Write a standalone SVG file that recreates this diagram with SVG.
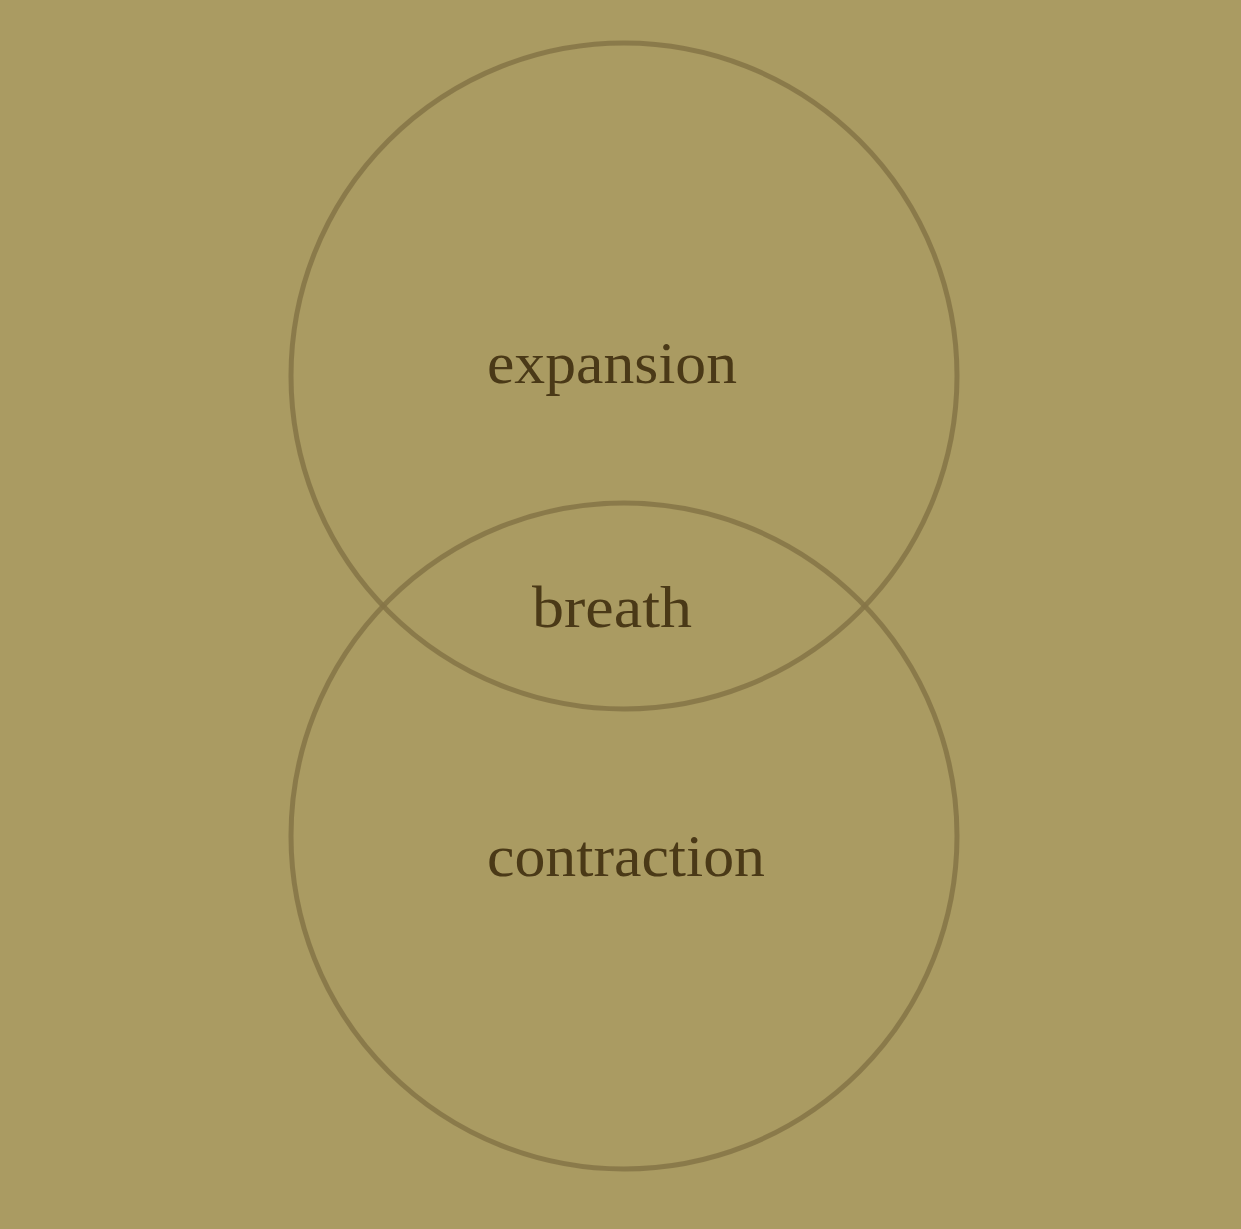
<svg xmlns="http://www.w3.org/2000/svg" width="1241" height="1229" viewBox="0 0 1241 1229">
<style>
.ring{fill:none;stroke:#857446;stroke-width:5;stroke-opacity:0.85}
.lbl{font-family:"Liberation Serif","DejaVu Serif",serif;font-size:60px;fill:#4a3917}
</style>
<rect width="1241" height="1229" fill="#aa9b62"/>
<g id="connectors"></g>
<g id="node-expansion">
<circle class="ring" cx="624" cy="376" r="333"/>
<text class="lbl" x="487" y="383" textLength="250" lengthAdjust="spacingAndGlyphs">expansion</text>
</g>
<g id="node-contraction">
<circle class="ring" cx="624" cy="836" r="333"/>
<text class="lbl" x="487" y="876" textLength="278" lengthAdjust="spacingAndGlyphs">contraction</text>
</g>
<g id="node-breath">
<text class="lbl" x="532" y="627" textLength="160" lengthAdjust="spacingAndGlyphs">breath</text>
</g>
</svg>
